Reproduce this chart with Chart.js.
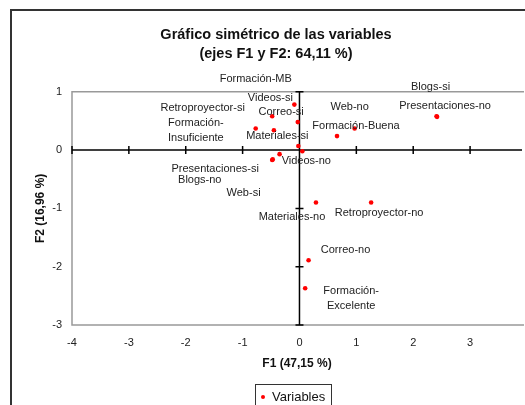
<!DOCTYPE html>
<html lang="es">
<head>
  <meta charset="UTF-8">
  <title>Gráfico simétrico de las variables</title>
  <script src="https://cdn.jsdelivr.net/npm/chart.js"></script>
  <style>
    body { margin: 0; background: #ffffff; }
    .chart-container { position: relative; width: 525px; height: 405px; }
  </style>
</head>
<body>
  <div class="chart-container">
    <canvas id="mcaChart"></canvas>
  </div>

  <script>
    // Modalidades y coordenadas (F1, F2)
    const names = [
      'Formación-MB', 'Videos-si', 'Retroproyector-si', 'Correo-si',
      'Formación-\nInsuficiente', 'Materiales-si', 'Web-no', 'Blogs-si',
      'Presentaciones-no', 'Formación-Buena', 'Presentaciones-si', 'Blogs-no',
      'Web-si', 'Videos-no', 'Materiales-no', 'Retroproyector-no',
      'Correo-no', 'Formación-\nExcelente'
    ];
    const f1 = [-0.03, -0.09, -0.77, -0.48, -0.45, -0.02, 0.97, 2.41, 2.42, 0.66,
                -0.48, -0.47, -0.35, 0.05, 0.29, 1.26, 0.16, 0.10];
    const f2 = [0.48, 0.78, 0.37, 0.58, 0.34, 0.07, 0.37, 0.58, 0.57, 0.24,
                -0.17, -0.16, -0.07, -0.02, -0.90, -0.90, -1.89, -2.37];
    const xTicks = [-4, -3, -2, -1, 0, 1, 2, 3];
    const yTicks = [-3, -2, -1, 0, 1];

    // where each label sits relative to its point (px)
    const labelOffsets = [
      [-42, -43], [-24, -7], [-53, -21], [9, -4], [-78, 0], [-21, -10],
      [-5, -22], [-6, -29], [8, -11], [19, -10], [-57, 9], [-73, 21],
      [-36, 39], [4, 10], [-24, 14], [8, 10], [37, -10], [46, 10]
    ];

    const FONT = 'Arial, "Liberation Sans", sans-serif';

    const decorPlugin = {
      id: 'decor',
      afterLayout: (chart) => {
        // title is centred on the original (wider) chart
        chart.titleBlock.left += 27;
      },
      beforeDraw: (chart) => {
        const { ctx } = chart;
        ctx.save();
        ctx.fillStyle = '#ffffff';
        ctx.fillRect(0, 0, chart.width, chart.height);
        ctx.strokeStyle = '#333333';
        ctx.lineWidth = 2;
        ctx.strokeRect(11, 10, chart.width + 40, chart.height + 40);
        ctx.restore();
      },
      beforeDatasetsDraw: (chart) => {
        const { ctx, chartArea: a, scales: { x, y } } = chart;
        ctx.save();
        // plot frame
        ctx.strokeStyle = '#999999';
        ctx.lineWidth = 1.5;
        ctx.beginPath();
        ctx.moveTo(a.right + 2, a.top);
        ctx.lineTo(a.left, a.top);
        ctx.lineTo(a.left, a.bottom);
        ctx.lineTo(a.right + 2, a.bottom);
        ctx.stroke();
        // axes through the origin
        const x0 = x.getPixelForValue(0);
        const y0 = y.getPixelForValue(0);
        ctx.strokeStyle = '#000000';
        ctx.lineWidth = 1.5;
        ctx.beginPath();
        ctx.moveTo(a.left, y0);
        ctx.lineTo(a.right, y0);
        ctx.moveTo(x0, a.top);
        ctx.lineTo(x0, a.bottom);
        xTicks.forEach(v => {
          const px = x.getPixelForValue(v);
          ctx.moveTo(px, y0 - 4);
          ctx.lineTo(px, y0 + 4);
        });
        yTicks.forEach(v => {
          const py = y.getPixelForValue(v);
          ctx.moveTo(x0 - 4, py);
          ctx.lineTo(x0 + 4, py);
        });
        ctx.stroke();
        ctx.restore();
      },
      afterDatasetsDraw: (chart) => {
        const { ctx } = chart;
        const meta = chart.getDatasetMeta(0);
        ctx.save();
        ctx.font = '11px ' + FONT;
        ctx.fillStyle = '#222222';
        ctx.textAlign = 'center';
        ctx.textBaseline = 'middle';
        meta.data.forEach((pt, i) => {
          const lines = names[i].split('\n');
          const cx = pt.x + labelOffsets[i][0];
          const cy = pt.y + labelOffsets[i][1] - (lines.length - 1) * 7.5;
          lines.forEach((l, k) => ctx.fillText(l, cx, cy + k * 15));
        });
        ctx.restore();
      },
      afterDraw: (chart) => {
        const { ctx } = chart;
        const ds = chart.data.datasets[0];
        ctx.save();
        ctx.strokeStyle = '#333333';
        ctx.lineWidth = 1;
        ctx.strokeRect(255.5, 384.5, 76, 40);
        ctx.fillStyle = ds.backgroundColor;
        ctx.beginPath();
        ctx.arc(263, 397, 2, 0, Math.PI * 2);
        ctx.fill();
        ctx.fillStyle = '#111111';
        ctx.font = '13px ' + FONT;
        ctx.textBaseline = 'middle';
        ctx.fillText(ds.label, 272, 397);
        ctx.restore();
      }
    };

    const ctx = document.getElementById('mcaChart').getContext('2d');
    new Chart(ctx, {
      type: 'scatter',
      data: {
        datasets: [{
          label: 'Variables',
          data: f1.map((v, i) => ({ x: v, y: f2[i] })),
          backgroundColor: '#ff0000',
          borderWidth: 0,
          pointRadius: 2.3,
          pointHoverRadius: 3
        }]
      },
      options: {
        responsive: true,
        maintainAspectRatio: false,
        animation: false,
        layout: { padding: 0 },
        plugins: {
          legend: { display: false },
          tooltip: { enabled: false },
          title: {
            display: true,
            text: ['Gráfico simétrico de las variables', '(ejes F1 y F2: 64,11 %)'],
            color: '#111111',
            font: { family: FONT, size: 14.5, weight: 'bold', lineHeight: 1.32 },
            padding: { top: 25.3, bottom: 28.2 }
          }
        },
        scales: {
          x: {
            type: 'linear',
            min: -4,
            max: 3.913,
            grid: { display: false, drawTicks: false },
            border: { display: false },
            ticks: { stepSize: 1, padding: 11, color: '#222222', font: { family: FONT, size: 11 } },
            afterBuildTicks: (s) => { s.ticks = xTicks.map(v => ({ value: v })); },
            afterFit: (s) => { s.height = 80; },
            title: {
              display: true,
              text: 'F1 (47,15 %)',
              color: '#111111',
              font: { family: FONT, size: 12, weight: 'bold' },
              padding: { top: 0, bottom: 34 }
            }
          },
          y: {
            type: 'linear',
            min: -3,
            max: 1,
            grid: { display: false, drawTicks: false },
            border: { display: false },
            ticks: { stepSize: 1, padding: 10, color: '#222222', font: { family: FONT, size: 11 } },
            afterBuildTicks: (s) => { s.ticks = yTicks.map(v => ({ value: v })); },
            afterFit: (s) => { s.width = 72; },
            title: {
              display: true,
              text: 'F2 (16,96 %)',
              color: '#111111',
              font: { family: FONT, size: 12, weight: 'bold' },
              padding: { top: 33, bottom: 0 }
            }
          }
        }
      },
      plugins: [decorPlugin]
    });
  </script>
</body>
</html>
